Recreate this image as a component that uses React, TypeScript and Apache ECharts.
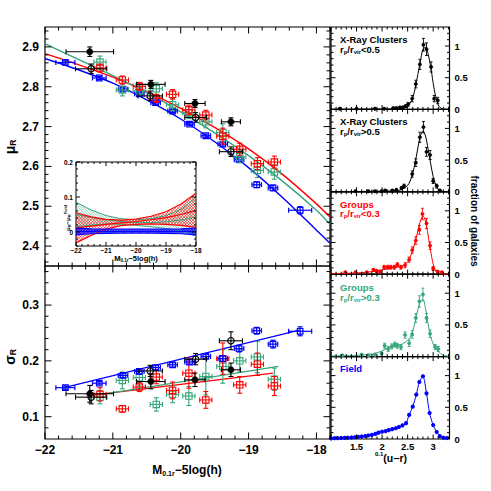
import React, { useEffect, useRef } from 'react';
import * as echarts from 'echarts';

// ---------------- Left panels: magnitude bins ----------------
const clInM = [-21.34, -20.44, -19.79, -19.26];
const clInMErr = [0.35, 0.21, 0.15, 0.14];
const clInMu = [2.888, 2.806, 2.758, 2.712];
const clInMuErr = [0.012, 0.01, 0.01, 0.01];
const clInSig = [0.141, 0.163, 0.166, 0.184];
const clInSigErr = [0.015, 0.013, 0.012, 0.012];

const clOutM = [-21.32, -20.45, -19.78, -19.26];
const clOutMErr = [0.23, 0.18, 0.16, 0.17];
const clOutMu = [2.845, 2.777, 2.723, 2.637];
const clOutMuErr = [0.012, 0.012, 0.012, 0.012];
const clOutSig = [0.135, 0.182, 0.203, 0.236];
const clOutSigErr = [0.012, 0.01, 0.01, 0.016];

const grM = [-21.19, -20.86, -20.61, -20.36, -20.12, -19.88, -19.63, -19.38, -19.13, -18.87, -18.62];
const grMErr = [0.09, 0.09, 0.09, 0.09, 0.09, 0.09, 0.09, 0.09, 0.09, 0.09, 0.09];
const grInMu = [2.847, 2.817, 2.801, 2.771, 2.781, 2.742, 2.729, 2.676, 2.643, 2.607, 2.611];
const grInMuErr = [0.01, 0.01, 0.01, 0.01, 0.012, 0.012, 0.012, 0.02, 0.015, 0.015, 0.015];
const grInSig = [0.14, 0.114, 0.153, 0.171, 0.147, 0.178, 0.13, 0.204, 0.157, 0.194, 0.155];
const grInSigErr = [0.012, 0.006, 0.008, 0.012, 0.015, 0.027, 0.015, 0.028, 0.015, 0.02, 0.017];
const grOutMu = [2.862, 2.792, 2.79, 2.795, 2.755, 2.735, 2.712, 2.685, 2.624, 2.59, 2.586];
const grOutMuErr = [0.015, 0.015, 0.012, 0.015, 0.015, 0.015, 0.015, 0.022, 0.015, 0.018, 0.018];
const grOutSig = [0.135, 0.165, 0.17, 0.122, 0.14, 0.137, 0.172, 0.19, 0.2, 0.207, 0.167];
const grOutSigErr = [0.012, 0.015, 0.015, 0.012, 0.015, 0.017, 0.033, 0.03, 0.02, 0.028, 0.02];

const fdM = [-21.7, -21.2, -20.85, -20.61, -20.37, -20.12, -19.87, -19.63, -19.38, -19.14, -18.88, -18.64, -18.24];
const fdMErr = [0.14, 0.1, 0.07, 0.07, 0.07, 0.07, 0.07, 0.07, 0.07, 0.07, 0.07, 0.07, 0.17];
const fdMu = [2.861, 2.822, 2.794, 2.782, 2.76, 2.739, 2.706, 2.677, 2.656, 2.617, 2.554, 2.546, 2.49];
const fdMuErr = [0.004, 0.004, 0.004, 0.004, 0.004, 0.004, 0.004, 0.004, 0.005, 0.006, 0.007, 0.007, 0.009];
const fdSig = [0.152, 0.16, 0.174, 0.181, 0.188, 0.193, 0.198, 0.208, 0.204, 0.222, 0.254, 0.23, 0.253];
const fdSigErr = [0.003, 0.003, 0.004, 0.004, 0.004, 0.004, 0.004, 0.004, 0.005, 0.006, 0.006, 0.007, 0.008];

// fitted relations
const fitM = [-22, -21.5, -21, -20.5, -20, -19.5, -19, -18.5, -18, -17.8];
const fitMuField = [2.871, 2.842, 2.809, 2.767, 2.719, 2.662, 2.597, 2.522, 2.44, 2.407];
const fitMuGrIn = [2.883, 2.855, 2.824, 2.788, 2.746, 2.698, 2.644, 2.58, 2.506, 2.473];
const fitMuGrOut = [2.908, 2.868, 2.828, 2.785, 2.737, 2.684, 2.627, 2.563, 2.49, 2.455];
const sigFitFieldM = [-21.75, -18.25];
const sigFitField = [0.151, 0.255];
const sigFitGrInM = [-21.33, -18.64];
const sigFitGrIn = [0.138, 0.178];
const sigFitGrOutM = [-21.25, -18.56];
const sigFitGrOut = [0.138, 0.19];

// inset: mu - mu_field bands
const insetM = [-22, -21.5, -21, -20.5, -20, -19.5, -19, -18.5, -18];
const dGrInHi = [0.055, 0.043, 0.036, 0.034, 0.037, 0.045, 0.058, 0.08, 0.111];
const dGrInMid = [0.012, 0.017, 0.022, 0.026, 0.03, 0.035, 0.041, 0.05, 0.062];
const dGrInLo = [-0.031, -0.01, 0.008, 0.018, 0.022, 0.023, 0.022, 0.019, 0.013];
const dGrOutHi = [0.085, 0.063, 0.047, 0.038, 0.035, 0.038, 0.047, 0.065, 0.098];
const dGrOutMid = [0.05, 0.042, 0.035, 0.03, 0.027, 0.027, 0.029, 0.034, 0.043];
const dGrOutLo = [0.015, 0.02, 0.023, 0.022, 0.019, 0.015, 0.01, 0.003, -0.012];
const dFdHi = [0.011, 0.009, 0.008, 0.008, 0.008, 0.008, 0.008, 0.009, 0.011];
const dFdMid = [0.002, 0.002, 0.002, 0.002, 0.002, 0.002, 0.002, 0.002, 0.002];
const dFdLo = [-0.008, -0.005, -0.004, -0.003, -0.003, -0.003, -0.004, -0.005, -0.008];

// ---------------- Right panels: colour distributions ----------------
const xrInX = [1.17, 1.5, 1.86, 2.04, 2.22, 2.28, 2.35, 2.41, 2.46, 2.51, 2.59, 2.66, 2.74, 2.81, 2.87, 2.96, 3.02, 3.09];
const xrInY = [0.01, 0.01, 0.01, 0.01, 0.02, 0.02, 0.03, 0.03, 0.05, 0.08, 0.17, 0.4, 0.71, 1.02, 0.95, 0.67, 0.17, 0.14];
const xrInE = [0.01, 0.01, 0.01, 0.01, 0.015, 0.015, 0.015, 0.02, 0.02, 0.03, 0.05, 0.06, 0.08, 0.1, 0.1, 0.08, 0.05, 0.05];
const xrInModelX = [1.0, 2.0, 2.3, 2.4, 2.5, 2.55, 2.6, 2.65, 2.7, 2.75, 2.8, 2.85, 2.9, 2.95, 3.0, 3.05, 3.1, 3.15, 3.2, 3.32];
const xrInModelY = [0.0, 0.005, 0.01, 0.02, 0.06, 0.1, 0.18, 0.34, 0.55, 0.76, 0.95, 0.98, 0.88, 0.68, 0.42, 0.2, 0.07, 0.02, 0.005, 0.0];

const xrOutX = [1.48, 1.73, 1.86, 1.99, 2.06, 2.2, 2.28, 2.38, 2.43, 2.59, 2.66, 2.74, 2.81, 2.87, 2.94, 3.0, 3.07, 3.13];
const xrOutY = [0.01, 0.01, 0.01, 0.01, 0.02, 0.02, 0.03, 0.06, 0.09, 0.28, 0.46, 0.86, 1.02, 0.63, 0.58, 0.17, 0.09, 0.02];
const xrOutE = [0.01, 0.01, 0.01, 0.01, 0.01, 0.015, 0.015, 0.02, 0.03, 0.05, 0.06, 0.08, 0.09, 0.07, 0.07, 0.04, 0.03, 0.01];
const xrOutModelX = [1.0, 2.0, 2.3, 2.4, 2.5, 2.55, 2.6, 2.65, 2.7, 2.75, 2.8, 2.85, 2.9, 2.95, 3.0, 3.05, 3.1, 3.15, 3.2, 3.32];
const xrOutModelY = [0.0, 0.01, 0.02, 0.04, 0.1, 0.17, 0.29, 0.47, 0.69, 0.88, 0.96, 0.88, 0.68, 0.45, 0.24, 0.11, 0.04, 0.015, 0.005, 0.0];

const grpInX = [1.28, 1.48, 1.7, 1.83, 1.89, 1.96, 2.04, 2.11, 2.17, 2.24, 2.3, 2.37, 2.45, 2.53, 2.59, 2.66, 2.73, 2.79, 2.87, 2.94, 3.0, 3.09, 3.17];
const grpInY = [0.03, 0.03, 0.03, 0.07, 0.05, 0.04, 0.11, 0.11, 0.11, 0.11, 0.15, 0.11, 0.14, 0.23, 0.38, 0.53, 0.7, 0.95, 0.8, 0.45, 0.09, 0.04, 0.03];
const grpInE = [0.01, 0.01, 0.01, 0.02, 0.02, 0.02, 0.03, 0.03, 0.03, 0.03, 0.03, 0.03, 0.04, 0.04, 0.05, 0.06, 0.07, 0.09, 0.08, 0.06, 0.03, 0.02, 0.01];
const grpInModelX = [1.0, 1.5, 1.8, 2.0, 2.2, 2.4, 2.5, 2.55, 2.6, 2.65, 2.7, 2.75, 2.8, 2.85, 2.9, 2.95, 3.0, 3.05, 3.1, 3.2, 3.32];
const grpInModelY = [0.01, 0.02, 0.04, 0.07, 0.1, 0.13, 0.19, 0.27, 0.37, 0.52, 0.68, 0.84, 0.92, 0.84, 0.62, 0.37, 0.16, 0.05, 0.015, 0.003, 0.0];

const grpOutX = [1.22, 1.6, 1.73, 1.86, 1.99, 2.05, 2.12, 2.19, 2.25, 2.3, 2.37, 2.45, 2.53, 2.59, 2.66, 2.73, 2.8, 2.87, 2.94, 3.04, 3.1];
const grpOutY = [0.02, 0.03, 0.02, 0.03, 0.05, 0.17, 0.12, 0.16, 0.19, 0.17, 0.15, 0.34, 0.21, 0.35, 0.61, 0.87, 0.98, 0.61, 0.36, 0.15, 0.12];
const grpOutE = [0.01, 0.02, 0.02, 0.02, 0.02, 0.04, 0.04, 0.04, 0.04, 0.04, 0.04, 0.05, 0.05, 0.06, 0.07, 0.09, 0.1, 0.07, 0.06, 0.04, 0.04];
const grpOutModelX = [1.0, 1.5, 1.8, 2.0, 2.1, 2.2, 2.3, 2.4, 2.5, 2.55, 2.6, 2.65, 2.7, 2.75, 2.8, 2.85, 2.9, 2.95, 3.0, 3.05, 3.1, 3.2, 3.32];
const grpOutModelY = [0.01, 0.02, 0.04, 0.09, 0.13, 0.16, 0.18, 0.2, 0.26, 0.3, 0.4, 0.56, 0.74, 0.87, 0.9, 0.76, 0.52, 0.32, 0.2, 0.13, 0.08, 0.02, 0.005];

const fieldX = [1.0, 1.07, 1.13, 1.2, 1.27, 1.33, 1.4, 1.47, 1.53, 1.6, 1.67, 1.73, 1.8, 1.87, 1.93, 2.0, 2.07, 2.13, 2.2, 2.27, 2.33, 2.4, 2.47, 2.53, 2.6, 2.67, 2.73, 2.8, 2.87, 2.93, 3.0, 3.07, 3.13, 3.2, 3.27];
const fieldY = [0.01, 0.012, 0.014, 0.016, 0.018, 0.02, 0.024, 0.028, 0.034, 0.04, 0.047, 0.056, 0.066, 0.08, 0.1, 0.115, 0.125, 0.14, 0.155, 0.17, 0.19, 0.215, 0.25, 0.38, 0.51, 0.7, 0.9, 0.99, 0.72, 0.41, 0.22, 0.11, 0.045, 0.02, 0.015];

// tick labels
const magLabels = [-22, -21, -20, -19, -18];
const muLabels = [2.4, 2.5, 2.6, 2.7, 2.8, 2.9];
const sigLabels = [0.1, 0.2, 0.3];
const insetYLabels = [0, 0.1, 0.2];
const colLabels = [1.5, 2, 2.5, 3];
const fracLabels = [0, 0.5, 1];

const FONT = '"Liberation Sans", Arial, Helvetica, sans-serif';
const RED = '#ff0000';
const GREEN = '#35a57a';
const BLUE = '#0000ff';
const BLACK = '#000000';

let mctx: CanvasRenderingContext2D | null = null;
function measure(text: string, size: number, weight: string) {
  if (!mctx) mctx = document.createElement('canvas').getContext('2d');
  if (!mctx) return text.length * size * 0.55;
  mctx.font = `${weight} ${size}px ${FONT}`;
  return mctx.measureText(text).width;
}

type Piece = [string, number, number];
function pieceGroup(pieces: Piece[], x: number, y: number, color: string, rotation = 0, align: 'left' | 'center' = 'center', weight = 'bold') {
  const widths = pieces.map((p) => measure(p[0], p[1], weight));
  const total = widths.reduce((a, b) => a + b, 0);
  let cur = align === 'center' ? -total / 2 : 0;
  const children = pieces.map((p, i) => {
    const el = {
      type: 'text',
      x: cur,
      y: p[2],
      style: { text: p[0], fontSize: p[1], fontFamily: FONT, fontWeight: weight, fill: color, align: 'left', verticalAlign: 'middle' },
    };
    cur += widths[i];
    return el;
  });
  return { type: 'group', x, y, rotation, children, silent: true };
}

function steps(a: number, b: number, step: number, skip: number) {
  const out: number[] = [];
  for (let k = 0; k < 1000; k++) {
    const v = a + k * step;
    if (v > b + 1e-9) break;
    const r = v / skip;
    if (Math.abs(r - Math.round(r)) < 1e-6) continue;
    out.push(+v.toFixed(4));
  }
  return out;
}

function L(x1: number, y1: number, x2: number, y2: number, style: any) {
  return { type: 'line', shape: { x1, y1, x2, y2 }, style };
}

function tickSeries(gi: number, xMaj: number[], xMin: number[], yMaj: number[], yMin: number[], lMaj: number, lMin: number, ax: number, ay: number) {
  const data: number[][] = [];
  xMaj.forEach((v) => data.push([v, ay, 0, lMaj]));
  xMin.forEach((v) => data.push([v, ay, 0, lMin]));
  yMaj.forEach((v) => data.push([ax, v, 1, lMaj]));
  yMin.forEach((v) => data.push([ax, v, 1, lMin]));
  return {
    type: 'custom', xAxisIndex: gi, yAxisIndex: gi, data, z: 6, silent: true,
    encode: { x: 0, y: 1 },
    renderItem: (params: any, api: any) => {
      const cs = params.coordSys;
      const kind = api.value(2);
      const len = api.value(3);
      const p = api.coord([api.value(0), api.value(1)]);
      const st = { stroke: '#000', lineWidth: 1 };
      if (kind === 0) {
        const x = p[0];
        return { type: 'group', children: [
          L(x, cs.y + cs.height, x, cs.y + cs.height - len, st),
          L(x, cs.y, x, cs.y + len, st),
        ] };
      }
      const y = p[1];
      return { type: 'group', children: [
        L(cs.x, y, cs.x + len, y, st),
        L(cs.x + cs.width, y, cs.x + cs.width - len, y, st),
      ] };
    },
  };
}

type Mk = 'fcircle' | 'ocircle' | 'square' | 'dot';
function errSeries(gi: number, xs: number[], ys: number[], xe: number[] | null, ye: number[] | null, color: string, mk: Mk, size: number, cap: number, lw: number, z = 4) {
  const data = xs.map((x, i) => [x, ys[i], xe ? xe[i] : 0, ye ? ye[i] : 0]);
  return {
    type: 'custom', xAxisIndex: gi, yAxisIndex: gi, data, z, silent: true,
    encode: { x: 0, y: 1 },
    renderItem: (_params: any, api: any) => {
      const x = api.value(0), y = api.value(1), dx = api.value(2), dy = api.value(3);
      const c = api.coord([x, y]);
      const st = { stroke: color, lineWidth: lw, fill: 'none' };
      const ch: any[] = [];
      if (dx > 0) {
        const l = api.coord([x - dx, y])[0];
        const r = api.coord([x + dx, y])[0];
        ch.push(L(l, c[1], r, c[1], st), L(l, c[1] - cap, l, c[1] + cap, st), L(r, c[1] - cap, r, c[1] + cap, st));
      }
      if (dy > 0) {
        const t = api.coord([x, y + dy])[1];
        const b = api.coord([x, y - dy])[1];
        ch.push(L(c[0], t, c[0], b, st), L(c[0] - cap, t, c[0] + cap, t, st), L(c[0] - cap, b, c[0] + cap, b, st));
      }
      if (mk === 'fcircle' || mk === 'dot') {
        ch.push({ type: 'circle', shape: { cx: c[0], cy: c[1], r: size }, style: { fill: color, stroke: color, lineWidth: 0.5 } });
      } else if (mk === 'ocircle') {
        ch.push({ type: 'circle', shape: { cx: c[0], cy: c[1], r: size }, style: { fill: 'none', stroke: color, lineWidth: lw } });
      } else {
        ch.push({ type: 'rect', shape: { x: c[0] - size, y: c[1] - size, width: 2 * size, height: 2 * size }, style: { fill: 'none', stroke: color, lineWidth: lw } });
      }
      return { type: 'group', children: ch };
    },
  };
}

function interpY(arr: number[][], x: number) {
  if (x <= arr[0][0]) return arr[0][1];
  for (let i = 0; i < arr.length - 1; i++) {
    const a = arr[i], b = arr[i + 1];
    if (x <= b[0]) {
      const t = (x - a[0]) / (b[0] - a[0]);
      return a[1] + t * (b[1] - a[1]);
    }
  }
  return arr[arr.length - 1][1];
}

function hatchSeries(gi: number, xs: number[], hi: number[], lo: number[], color: string, spacing: number, dirs: number[], lw: number, opacity: number) {
  return {
    type: 'custom', xAxisIndex: gi, yAxisIndex: gi, data: [[xs[0], lo[0]]], z: 2, silent: true,
    encode: { x: 0, y: 1 },
    renderItem: (_params: any, api: any) => {
      const U = xs.map((x, i) => api.coord([x, hi[i]]));
      const D = xs.map((x, i) => api.coord([x, lo[i]]));
      const x0 = U[0][0], x1 = U[U.length - 1][0];
      const allY = U.concat(D).map((p) => p[1]);
      const yMin = Math.min(...allY), yMax = Math.max(...allY);
      const st = { stroke: color, lineWidth: lw, opacity };
      const ch: any[] = [];
      dirs.forEach((d) => {
        const w = x1 - x0;
        const cLo = d > 0 ? yMin - w : yMin;
        const cHi = d > 0 ? yMax : yMax + w;
        for (let c = cLo; c <= cHi; c += spacing) {
          let start: number[] | null = null;
          let prev: number[] | null = null;
          for (let x = x0; x <= x1 + 0.001; x += 0.5) {
            const y = d * (x - x0) + c;
            const a = interpY(U, x), b = interpY(D, x);
            const inside = y >= Math.min(a, b) && y <= Math.max(a, b);
            if (inside) {
              if (!start) start = [x, y];
              prev = [x, y];
            } else if (start && prev) {
              if (prev[0] > start[0]) ch.push(L(start[0], start[1], prev[0], prev[1], st));
              start = null; prev = null;
            }
          }
          if (start && prev && prev[0] > start[0]) ch.push(L(start[0], start[1], prev[0], prev[1], st));
        }
      });
      return { type: 'group', children: ch };
    },
  };
}

function lineSeries(gi: number, xs: number[], ys: number[], color: string, width: number, smooth: number | boolean, symbolSize = 0, z = 3) {
  return {
    type: 'line', xAxisIndex: gi, yAxisIndex: gi,
    data: xs.map((x, i) => [x, ys[i]]),
    smooth,
    showSymbol: symbolSize > 0,
    symbol: symbolSize > 0 ? 'circle' : 'none',
    symbolSize,
    lineStyle: { color, width },
    itemStyle: { color },
    z, silent: true,
  };
}

const minusFmt = (v: number) => (v < 0 ? '\u2212' + String(Math.abs(v)) : String(v));

function mkAxis(gi: number, min: number, max: number, labels: number[] | null, fmt: any, fontSize: number, margin: number, position?: string) {
  return {
    type: 'value', gridIndex: gi, min, max, position,
    axisLine: { show: false }, axisTick: { show: false }, splitLine: { show: false }, minorTick: { show: false },
    axisLabel: labels
      ? { show: true, customValues: labels, formatter: fmt, fontSize, margin, color: '#000', fontFamily: FONT, fontWeight: 'bold' }
      : { show: false },
  };
}

function buildOption() {
  const gridBase = { show: true, borderColor: '#000', borderWidth: 1.2, backgroundColor: 'transparent', containLabel: false, outerBoundsMode: 'none' };
  const RT = 27, RH = 82.4;
  const grids: any[] = [
    { ...gridBase, left: 45, top: 27, width: 285, height: 239 },
    { ...gridBase, left: 45, top: 266, width: 285, height: 173 },
    { ...gridBase, left: 76, top: 162, width: 120, height: 84, borderWidth: 1 },
  ];
  for (let i = 0; i < 5; i++) grids.push({ ...gridBase, left: 331, top: RT + i * RH, width: 118.5, height: RH });

  const xAxis: any[] = [
    mkAxis(0, -22, -17.8, null, null, 12, 5),
    mkAxis(1, -22, -17.8, magLabels, minusFmt, 12, 5),
    mkAxis(2, -22, -18, magLabels, minusFmt, 6.5, 1),
  ];
  const yAxis: any[] = [
    mkAxis(0, 2.35, 2.95, muLabels, (v: number) => v.toFixed(1), 12, 6),
    mkAxis(1, 0.06, 0.37, sigLabels, (v: number) => v.toFixed(1), 12, 6),
    mkAxis(2, -0.04, 0.2, insetYLabels, (v: number) => (v === 0 ? '0' : v.toFixed(1)), 6.5, 3),
  ];
  for (let i = 0; i < 5; i++) {
    xAxis.push(mkAxis(3 + i, 1, 3.32, i === 4 ? colLabels : null, (v: number) => String(v), 9.5, 2));
    yAxis.push(mkAxis(3 + i, 0, 1.3, fracLabels, (v: number) => String(v), 9.5, 5, 'right'));
  }

  const magMinor = steps(-22, -17.8, 0.2, 1);
  const series: any[] = [];
  // ticks
  series.push(tickSeries(0, magLabels, magMinor, [2.4, 2.5, 2.6, 2.7, 2.8, 2.9], steps(2.36, 2.94, 0.02, 0.1), 6.5, 3.5, -22, 2.35));
  series.push(tickSeries(1, magLabels, magMinor, [0.1, 0.2, 0.3], steps(0.08, 0.36, 0.02, 0.1), 6.5, 3.5, -22, 0.06));
  series.push(tickSeries(2, magLabels, steps(-21.8, -18.2, 0.2, 1), [0, 0.1, 0.2], steps(-0.04, 0.18, 0.02, 0.1), 4, 2, -22, -0.04));
  for (let i = 0; i < 5; i++) {
    series.push(tickSeries(3 + i, [1, 1.5, 2, 2.5, 3], steps(1.1, 3.3, 0.1, 0.5), [0.5, 1], steps(0.1, 1.2, 0.1, 0.5), 4.5, 2.5, 1, 0));
  }

  // top panel: fits + points
  series.push(lineSeries(0, fitM, fitMuGrIn, RED, 1.4, 0.3));
  series.push(lineSeries(0, fitM, fitMuGrOut, GREEN, 1.4, 0.3));
  series.push(lineSeries(0, fitM, fitMuField, BLUE, 1.4, 0.3));
  series.push(errSeries(0, fdM, fdMu, fdMErr, fdMuErr, BLUE, 'square', 2.8, 2.5, 1.2));
  series.push(errSeries(0, grM, grOutMu, grMErr, grOutMuErr, GREEN, 'square', 3.2, 2.5, 1.1));
  series.push(errSeries(0, grM, grInMu, grMErr, grInMuErr, RED, 'square', 3.2, 2.5, 1.1));
  series.push(errSeries(0, clOutM, clOutMu, clOutMErr, clOutMuErr, BLACK, 'ocircle', 3.2, 2.5, 1.1));
  series.push(errSeries(0, clInM, clInMu, clInMErr, clInMuErr, BLACK, 'fcircle', 3.2, 2.5, 1.1));

  // bottom panel
  series.push(lineSeries(1, sigFitGrInM, sigFitGrIn, RED, 1.3, false));
  series.push(lineSeries(1, sigFitGrOutM, sigFitGrOut, GREEN, 1.3, false));
  series.push(lineSeries(1, sigFitFieldM, sigFitField, BLUE, 1.3, false));
  series.push(errSeries(1, grM, grOutSig, grMErr, grOutSigErr, GREEN, 'square', 3.2, 2.5, 1.1));
  series.push(errSeries(1, grM, grInSig, grMErr, grInSigErr, RED, 'square', 3.2, 2.5, 1.1));
  series.push(errSeries(1, fdM, fdSig, fdMErr, fdSigErr, BLUE, 'square', 2.8, 2.5, 1.2));
  series.push(errSeries(1, clOutM, clOutSig, clOutMErr, clOutSigErr, BLACK, 'ocircle', 3.2, 2.5, 1.1));
  series.push(errSeries(1, clInM, clInSig, clInMErr, clInSigErr, BLACK, 'fcircle', 3.2, 2.5, 1.1));

  // inset
  series.push(hatchSeries(2, insetM, dGrOutHi, dGrOutLo, GREEN, 2.6, [1], 0.6, 0.9));
  series.push(hatchSeries(2, insetM, dGrInHi, dGrInLo, RED, 3, [1, -1], 0.6, 0.9));
  series.push(hatchSeries(2, insetM, dFdHi, dFdLo, BLUE, 1.6, [1, -1], 0.8, 0.9));
  [dGrOutHi, dGrOutMid, dGrOutLo].forEach((a) => series.push(lineSeries(2, insetM, a, GREEN, 1, false)));
  [dGrInHi, dGrInMid, dGrInLo].forEach((a) => series.push(lineSeries(2, insetM, a, RED, 1.2, false)));
  [dFdHi, dFdMid, dFdLo].forEach((a) => series.push(lineSeries(2, insetM, a, BLUE, 1.2, false)));

  // right panels
  series.push(lineSeries(3, xrInModelX, xrInModelY, BLACK, 1, 0.3));
  series.push(errSeries(3, xrInX, xrInY, null, xrInE, BLACK, 'dot', 1.7, 1.5, 0.9));
  series.push(lineSeries(4, xrOutModelX, xrOutModelY, BLACK, 1, 0.3));
  series.push(errSeries(4, xrOutX, xrOutY, null, xrOutE, BLACK, 'dot', 1.7, 1.5, 0.9));
  series.push(lineSeries(5, grpInModelX, grpInModelY, RED, 1, 0.3));
  series.push(errSeries(5, grpInX, grpInY, null, grpInE, RED, 'dot', 1.7, 1.5, 0.9));
  series.push(lineSeries(6, grpOutModelX, grpOutModelY, GREEN, 1, 0.3));
  series.push(errSeries(6, grpOutX, grpOutY, null, grpOutE, GREEN, 'dot', 1.7, 1.5, 0.9));
  series.push(lineSeries(7, fieldX, fieldY, BLUE, 1, 0.25, 4.2));

  const sub = (t: string, gt: string): Piece[] => [['r', 9.5, 0], ['p', 6, 2.5], ['/r', 9.5, 0], ['vir', 6, 2.5], [gt + t, 9.5, 0]];
  const graphics: any[] = [
    pieceGroup([['\u03bc', 14, 0], ['R', 8.5, 3]], 10, 147, BLACK, Math.PI / 2),
    pieceGroup([['\u03c3', 14, 0], ['R', 8.5, 3]], 10, 357, BLACK, Math.PI / 2),
    pieceGroup([['M', 12, 0], ['0.1r', 7, 3], ['\u22125log(h)', 12, 0]], 187, 470, BLACK),
    pieceGroup([['0.1', 6, -4], ['(u\u2212r)', 10.5, 0]], 391, 458, BLACK),
    pieceGroup([['M', 7.5, 0], ['0.1r', 4.5, 2], ['\u22125log(h)', 7.5, 0]], 136, 258, BLACK),
    pieceGroup([['\u03bc', 6, 0], ['R', 4, 2], ['\u2212', 6, 0], ['\u03bc', 6, 0], ['R', 4, 2], ['Field', 4, -2.5]], 67.5, 218, BLACK, Math.PI / 2),
    pieceGroup([['fraction of galaxies', 10, 0]], 474, 221, BLACK, -Math.PI / 2),
    pieceGroup([['X-Ray Clusters', 9.5, 0]], 340, 39.5, BLACK, 0, 'left'),
    pieceGroup(sub('0.5', '<'), 340, 49.5, BLACK, 0, 'left'),
    pieceGroup([['X-Ray Clusters', 9.5, 0]], 340, 121.7, BLACK, 0, 'left'),
    pieceGroup(sub('0.5', '>'), 340, 131.5, BLACK, 0, 'left'),
    pieceGroup([['Groups', 9.5, 0]], 340, 204, RED, 0, 'left'),
    pieceGroup(sub('0.3', '<'), 340, 213.5, RED, 0, 'left'),
    pieceGroup([['Groups', 9.5, 0]], 340, 287, GREEN, 0, 'left'),
    pieceGroup(sub('0.3', '>'), 340, 297, GREEN, 0, 'left'),
    pieceGroup([['Field', 9.5, 0]], 340, 368, BLUE, 0, 'left'),
  ];

  return {
    animation: false,
    backgroundColor: '#ffffff',
    grid: grids,
    xAxis,
    yAxis,
    series,
    graphic: { elements: graphics },
  };
}

export default function App() {
  const ref = useRef<HTMLDivElement>(null);
  useEffect(() => {
    if (!ref.current) return;
    const chart = echarts.init(ref.current, null, { renderer: 'svg' });
    chart.setOption(buildOption() as any);
    return () => chart.dispose();
  }, []);
  return <div ref={ref} style={{ position: 'absolute', left: 0, top: 0, width: 491, height: 491 }} />;
}
